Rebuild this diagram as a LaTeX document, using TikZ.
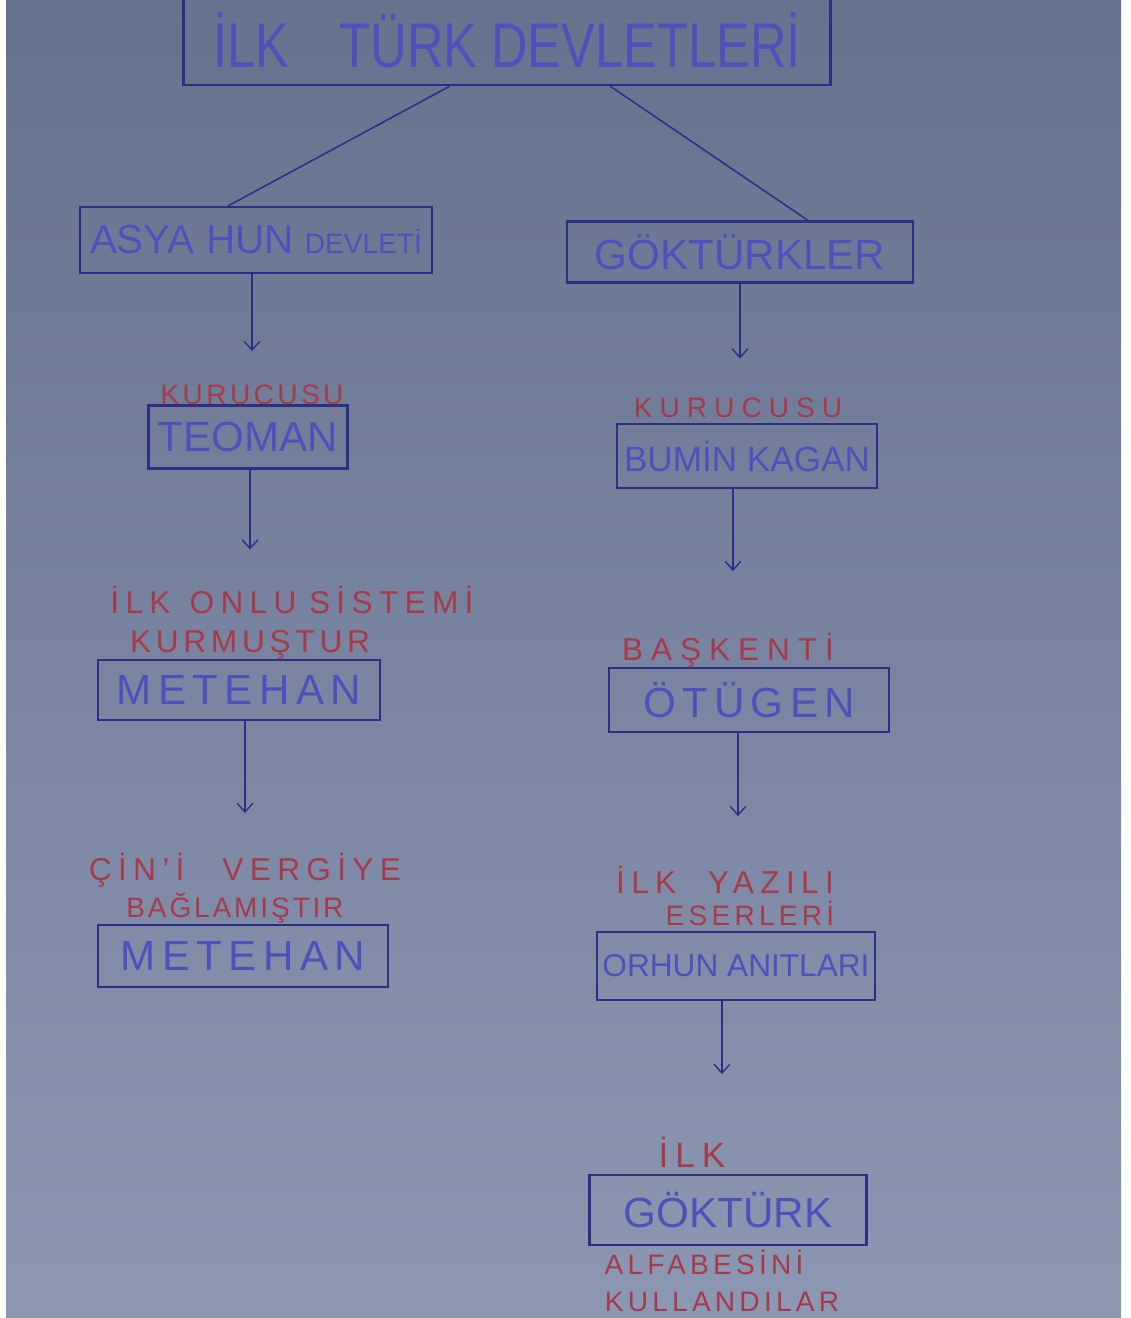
\documentclass[tikz,border=0pt]{standalone}
\usepackage{fontspec}
\setmainfont{Liberation Sans}
\newfontfamily\titlefont[FakeStretch=0.8]{Liberation Sans}
\usetikzlibrary{arrows.meta,calc}
\definecolor{boardtop}{HTML}{66738E}
\definecolor{boardmid}{HTML}{A8B1C6}
\definecolor{boardbot}{HTML}{8C97B2}
\definecolor{inkblue}{HTML}{4C52BC}
\definecolor{inkline}{HTML}{2C2F86}
\definecolor{inkred}{HTML}{A63A4A}
\newcommand{\spaced}[2]{{\addfontfeature{LetterSpace=#1}#2}}

\begin{document}
\begin{tikzpicture}[
    x=0.02cm, y=-0.02cm, % one unit = one pixel of the photo, (0,0) top left
    box/.style 2 args={draw=inkline, line width=1.2pt, text=inkblue, inner sep=0pt,
        minimum width=#1*0.02cm, minimum height=#2*0.02cm,
        font=\fontsize{24}{28}\selectfont},
    note/.style={text=inkred, inner sep=0pt, font=\fontsize{18}{20}\selectfont},
    arr/.style={draw=inkline, line width=0.8pt, -{Straight Barb[length=5pt,width=9pt]}}
]
% the board
\clip (0,0) rectangle (1130,1318);
\fill[white] (0,0) rectangle (1130,1318);
\shade[top color=boardtop, middle color=boardmid, bottom color=boardbot] (6,0) rectangle (1121,1318);

% title and the two states
\node[box={647}{90}, font=\titlefont\fontsize{36}{40}\selectfont] (title) at (507,40) {İLK\hspace{0.8em}TÜRK DEVLETLERİ};
\node[box={352}{66}, font=\fontsize{23}{26}\selectfont] (asya) at (256,240) {ASYA HUN {\fontsize{16}{18}\selectfont DEVLETİ}};
\node[box={346}{61}] (gokturkler) at (740,252) {GÖKTÜRKLER};
\draw[inkline, line width=0.9pt] ($(title.south)+(-57,0)$) -- ($(asya.north)+(-28,0)$);
\draw[inkline, line width=0.9pt] ($(title.south)+(103,0)$) -- ($(gokturkler.north)+(68,0)$);

% left column
\node[box={199}{63}] (teoman) at (248,437) {TEOMAN};
\node[box={282}{60}] (metehan) at (239,690) {\spaced{15}{METEHAN}};
\node[box={290}{62}] (metehan2) at (243,956) {\spaced{15}{METEHAN}};
\node[note, font=\fontsize{16}{18}\selectfont] (kurucu1) at (252,395) {\spaced{12}{KURUCUSU}};
\node[note] (onlu) at (292,600) {\spaced{20}{İLK\hspace{0.6em}ONLU\hspace{0.4em}SİSTEMİ}};
\node[note] (kurmus) at (250,645) {\spaced{15}{KURMUŞTUR}};
\node[note] (cini) at (245,870) {\spaced{20}{ÇİN'İ\hspace{1.2em}VERGİYE}};
\node[note, font=\fontsize{16}{18}\selectfont] (bagla) at (235,908) {\spaced{10}{BAĞLAMIŞTIR}};

% right column
\node[box={260}{64}, font=\fontsize{20}{24}\selectfont] (bumin) at (747,456) {BUMİN KAGAN};
\node[box={280}{64}] (otugen) at (749,700) {\spaced{15}{ÖTÜGEN}};
\node[box={278}{68}, font=\fontsize{18}{22}\selectfont] (orhun) at (736,966) {ORHUN ANITLARI};
\node[box={277}{70}] (gokturk) at (728,1210) {GÖKTÜRK};
\node[note, font=\fontsize{16}{18}\selectfont] (kurucu2) at (738,408) {\spaced{25}{KURUCUSU}};
\node[note] (baskent) at (728,650) {\spaced{25}{BAŞKENTİ}};
\node[note] (yazili) at (725,880) {\spaced{20}{İLK\hspace{1em}YAZILI}};
\node[note, font=\fontsize{16}{18}\selectfont] (eserleri) at (750,913) {\spaced{15}{ESERLERİ}};
\node[note, font=\fontsize{20}{22}\selectfont] (ilk) at (692,1152) {\spaced{20}{İLK}};
\node[note, font=\fontsize{16}{18}\selectfont] (alfabe) at (704,1262) {\spaced{15}{ALFABESİNİ}};
\node[note, font=\fontsize{16}{18}\selectfont] (kullan) at (722,1302) {\spaced{15}{KULLANDILAR}};

% down arrows (drawn a little off centre, as on the board)
\foreach \src/\dx/\len in {asya/-4/77, gokturkler/0/75, teoman/2/80, bumin/-14/82,
                           metehan/6/92, otugen/-11/83, orhun/-14/73} {
    \coordinate (\src-end) at ($(\src.south)+(\dx,\len)$);
    \draw[arr] ($(\src.south)+(\dx,0)$) -- (\src-end);
}
\end{tikzpicture}
\end{document}
